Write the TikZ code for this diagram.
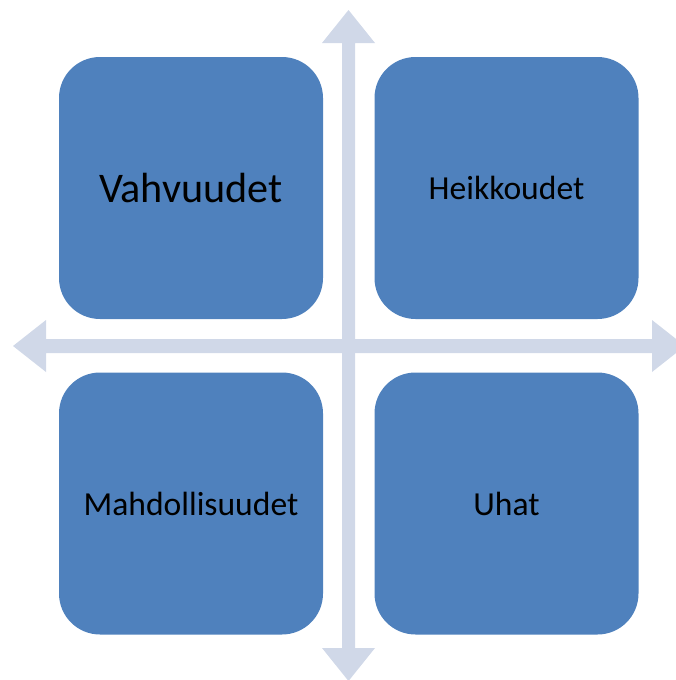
\documentclass[tikz,border=0pt]{standalone}
\usepackage{fontspec}
\setmainfont{Carlito}
\definecolor{boxblue}{HTML}{4F81BD}
\definecolor{arrowgray}{HTML}{D0D8E8}
\begin{document}
\begin{tikzpicture}[x=1pt,y=-1pt,
  quad/.style={fill=boxblue, draw=none, rounded corners=41pt, minimum width=264pt, minimum height=262pt, inner sep=0pt, text=black, font=\fontsize{33.6}{40}\selectfont},
  axis/.style={fill=arrowgray, draw=none}]
\useasboundingbox (0,0) rectangle (675,680);
% vertical double arrow
\fill[axis] (348.5,10) -- (375,43) -- (355,43) -- (355,648) -- (375,648) -- (348.5,681)
  -- (322,648) -- (342,648) -- (342,43) -- (322,43) -- cycle;
% horizontal double arrow
\fill[axis] (13,346) -- (46,320) -- (46,339) -- (652,339) -- (652,320) -- (685,346)
  -- (652,372) -- (652,353) -- (46,353) -- (46,372) -- cycle;
\node[quad, font=\fontsize{42.2}{48}\selectfont] (s) at (191,188) {Vahvuudet};
\node[quad] (w) at (506.5,188) {Heikkoudet};
\node[quad] (o) at (191,503.5) {Mahdollisuudet};
\node[quad] (t) at (506.5,503.5) {Uhat};
\end{tikzpicture}
\end{document}
